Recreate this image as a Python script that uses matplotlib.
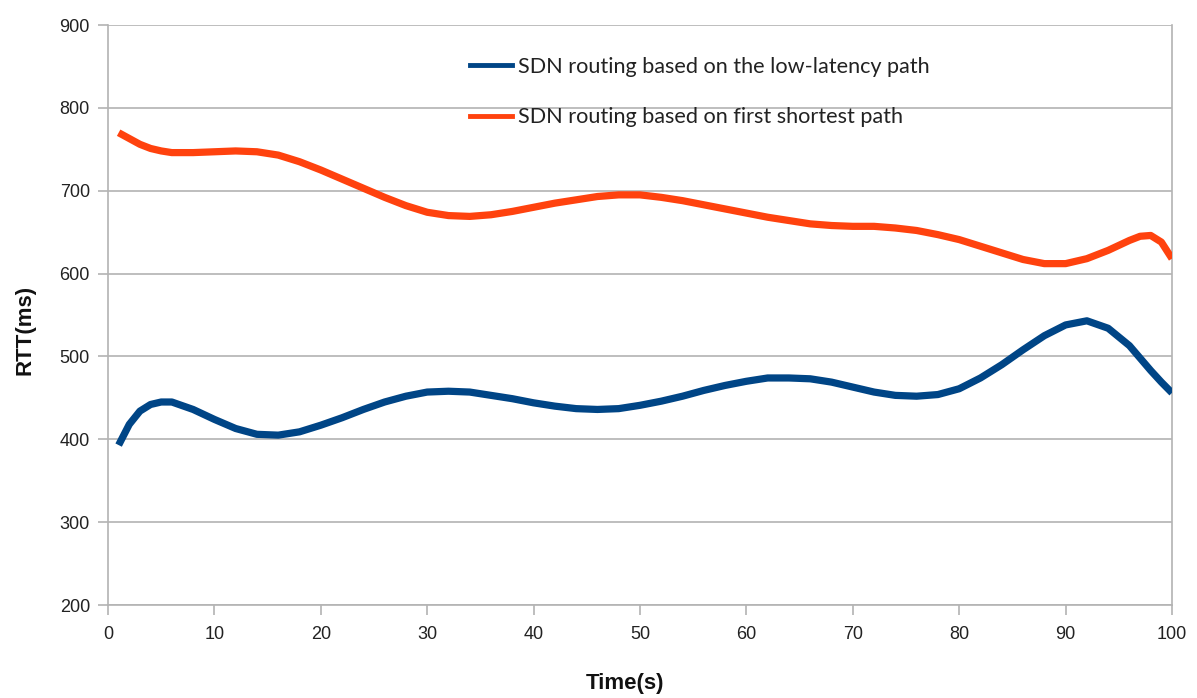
import matplotlib
matplotlib.use("Agg")
import matplotlib.pyplot as plt
from matplotlib.lines import Line2D

# RTT samples over time (seconds, milliseconds)
time_s = [1, 2, 3, 4, 5, 6, 8, 10, 12, 14, 16, 18, 20, 22, 24, 26, 28, 30, 32, 34,
          36, 38, 40, 42, 44, 46, 48, 50, 52, 54, 56, 58, 60, 62, 64, 66, 68, 70,
          72, 74, 76, 78, 80, 82, 84, 86, 88, 90, 92, 94, 96, 97, 98, 99, 100]

rtt_low_latency = [393, 418, 434, 442, 445, 445, 436, 424, 413, 406, 405, 409, 417,
                   426, 436, 445, 452, 457, 458, 457, 453, 449, 444, 440, 437, 436,
                   437, 441, 446, 452, 459, 465, 470, 474, 474, 473, 469, 463, 457,
                   453, 452, 454, 461, 474, 490, 508, 525, 538, 543, 534, 513, 498,
                   483, 469, 456]

rtt_shortest = [770, 763, 756, 751, 748, 746, 746, 747, 748, 747, 743, 735, 725,
                714, 703, 692, 682, 674, 670, 669, 671, 675, 680, 685, 689, 693,
                695, 695, 692, 688, 683, 678, 673, 668, 664, 660, 658, 657, 657,
                655, 652, 647, 641, 633, 625, 617, 612, 612, 618, 628, 640, 645,
                646, 638, 618]

series_labels = ["SDN routing based on the low-latency path",
                 "SDN routing based on first shortest path"]
series_colors = ["#004586", "#ff420e"]

x_ticks = list(range(0, 101, 10))
y_ticks = list(range(200, 901, 100))

grid_color = "#b3b3b3"

fig = plt.figure(figsize=(11.97, 6.98), dpi=100)
ax = fig.add_axes([108 / 1197, 1 - 605 / 698, (1172 - 108) / 1197, (605 - 25) / 698])

for y, label, color in zip([rtt_low_latency, rtt_shortest], series_labels, series_colors):
    ax.plot(time_s, y, color=color, lw=5.2, solid_capstyle="butt",
            solid_joinstyle="round", label=label, zorder=3)

ax.set_xlim(0, 100)
ax.set_ylim(200, 900)
ax.set_xticks(x_ticks)
ax.set_yticks(y_ticks)

tick_font = {"family": "Liberation Sans", "size": 13}
ax.set_xticklabels([str(v) for v in x_ticks], fontdict=tick_font, color="#222222")
ax.set_yticklabels([str(v) for v in y_ticks], fontdict=tick_font, color="#222222")
ax.tick_params(axis="both", direction="out", length=7, width=1.2, color=grid_color)
ax.tick_params(axis="x", pad=8)
ax.tick_params(axis="y", pad=6)

ax.yaxis.grid(True, color=grid_color, lw=1.2)
ax.set_axisbelow(True)
for side in ["left", "bottom", "right"]:
    ax.spines[side].set_color(grid_color)
    ax.spines[side].set_linewidth(1.2)
ax.spines["top"].set_visible(False)

fig.text(625 / 1197, 1 - 683 / 698, "Time(s)", ha="center", va="center",
         family="Liberation Sans", weight="bold", size=16, color="#111111")
fig.text(25 / 1197, 1 - 330 / 698, "RTT(ms)", ha="center", va="center",
         rotation=90, family="Liberation Sans", weight="bold", size=16, color="#111111")

handles = [Line2D([], [], color=c, lw=3.5) for c in series_colors]
leg = ax.legend(handles, series_labels, loc="upper left",
                bbox_to_anchor=((470 - 108) / 1064, 1 - (57 - 25) / 580),
                frameon=False, handlelength=1.95, handletextpad=0.25,
                labelspacing=1.4, borderaxespad=0, borderpad=0,
                prop={"family": "Lato", "size": 15.6})
for t in leg.get_texts():
    t.set_color("#222222")

fig.savefig("out.png", dpi=100)
